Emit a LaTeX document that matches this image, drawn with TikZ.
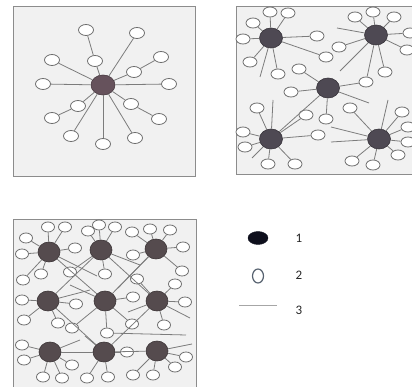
\documentclass[tikz,border=0pt]{standalone}
\usepackage{fontspec}
\setmainfont{Carlito}
\usetikzlibrary{shapes.geometric}
\definecolor{panelbg}{HTML}{F1F1F1}
\definecolor{framec}{HTML}{8C8C8C}
\definecolor{linkc}{HTML}{7C7C7C}
\definecolor{hubone}{HTML}{66525C}
\definecolor{hubtwo}{HTML}{4E4953}
\definecolor{hubthree}{HTML}{554B4E}
\definecolor{satc}{HTML}{6E6E6E}
\definecolor{legfill}{HTML}{0E0F1C}
\definecolor{legopen}{HTML}{56616F}
\begin{document}
\begin{tikzpicture}[x=1pt,y=-1pt,
  panel/.style={fill=panelbg,draw=framec,line width=0.9pt},
  hubP/.style={ellipse,draw=hubone!70!black,fill=hubone,line width=0.6pt,minimum width=24pt,minimum height=20pt,inner sep=0pt},
  hubQ/.style={ellipse,draw=hubtwo!70!black,fill=hubtwo,line width=0.6pt,minimum width=23pt,minimum height=20pt,inner sep=0pt},
  hubR/.style={ellipse,draw=hubthree!70!black,fill=hubthree,line width=0.6pt,minimum width=22pt,minimum height=20pt,inner sep=0pt},
  satA/.style={ellipse,draw=satc,fill=white,line width=0.8pt,minimum width=15pt,minimum height=11pt,inner sep=0pt},
  satB/.style={ellipse,draw=satc,fill=white,line width=0.8pt,minimum width=14pt,minimum height=10pt,inner sep=0pt},
  satC/.style={ellipse,draw=satc,fill=white,line width=0.8pt,minimum width=13pt,minimum height=10pt,inner sep=0pt},
  link/.style={draw=linkc,line width=0.8pt},
  lab/.style={font=\fontsize{13}{15}\selectfont,text=black!85}
]
\useasboundingbox (0,0) rectangle (412,387);
\fill[white] (0,0) rectangle (412,387);

% ---------------- Panel 1 ----------------
\draw[panel] (13,6) rectangle (195,176);
\node[hubP] (h) at (103,85) {};
\foreach \n/\x/\y in {s1/86/30, s2/137/33, s3/52/60, s4/95/61, s5/161/57, s6/134/72,
  s7/43/84, s8/169/84, s9/78/106, s10/131/104, s11/52/118, s12/159/119,
  s13/71/136, s14/103/144, s15/135/138}
  \node[satA] (\n) at (\x,\y) {};
\foreach \a/\b in {s1/s4, s4/h, s5/s6, s6/h, s11/s9, s9/h, s12/s10, s10/h,
  s2/h, s3/h, s7/h, s8/h, s13/h, s14/h, s15/h}
  \draw[link] (\a) -- (\b);

% ---------------- Panel 2 ----------------
\draw[panel] (236,6) rectangle (425,174);
\foreach \n/\x/\y in {A/271/38, B/376/35, C/328/88, D/271/139, E/379/139}
  \node[hubQ] (\n) at (\x,\y) {};
\foreach \n/\x/\y in {a1/253/23, a2/270/12, a3/288/13, a4/243/39, a5/250/62, a6/317/36, a7/278/74,
  c0/326/57, c1/299/69, c2/291/92, c3/306/115, c4/326/119, c5/366/82,
  b1/355/17, b2/373/12, b3/394/17, b4/339/47, b5/407/50, b6/410/33, b7/385/72,
  d1/257/108, d2/243/132, d3/245/147, d4/268/164, d5/295/164, d6/318/135,
  e1/350/108, e2/402/112, e3/408/127, e4/408/142, e5/398/155, e6/352/161, e7/373/165}
  \node[satB] (\n) at (\x,\y) {};
\foreach \n/\x/\y in {fa/260/77, fb1/337/28, fb2/340/71, fc1/369/103, fd1/273/100,
  fd2/252/158, fe1/388/100, fe2/331/127, fe3/331/142}
  \coordinate (\n) at (\x,\y);
\foreach \a/\b in {A/a1, A/a2, A/a3, A/a4, A/a5, A/a6, A/a7, A/c0, A/fa,
  B/b1, B/b2, B/b3, B/b4, B/b5, B/b6, B/b7, B/c5, B/fb1, B/fb2,
  C/c1, C/c2, C/c4, C/c5, C/fc1, C/D,
  D/d1, D/d2, D/d3, D/d4, D/d5, D/d6, D/c3, D/fd1, D/fd2,
  E/e1, E/e2, E/e3, E/e4, E/e5, E/e6, E/e7, E/fe1, E/fe2, E/fe3}
  \draw[link] (\a) -- (\b);

% ---------------- Panel 3 ----------------
\draw[panel] (13,219) rectangle (196,395);
\foreach \n/\x/\y in {H1/49/252, H2/101/250, H3/156/249, H4/48/301, H5/105/301,
  H6/157/301, H7/50/352, H8/104/352, H9/157/351}
  \node[hubR] (\n) at (\x,\y) {};
\foreach \n/\x/\y in {p1/26/238, p2/48/227, p3/65/227, p4/22/254, p5/75/248, p6/88/231,
  p7/99/225, p8/115/227, p9/132/232, p10/150/229, p11/170/230, p12/183/247,
  p13/133/255, p14/182/271, p15/41/274, p16/23/280, p17/70/272, p18/105/274,
  p19/137/279, p20/175/284, p21/22/300, p22/185/302, p23/133/297, p24/76/304,
  p25/24/320, p26/58/323, p27/72/328, p28/132/324, p29/164/325, p30/107/333,
  p31/22/345, p32/24/360, p33/72/365, p34/127/352, p35/186/357, p36/175/367,
  p37/133/375, p38/153/375, p39/43/377, p40/62/378, p41/87/378, p42/108/377}
  \node[satC] (\n) at (\x,\y) {};
\foreach \n/\x/\y in {g1/97/276, g2/140/265, g3/70/285, g4/190/318, g5/128/312,
  g6/192/344, g7/85/336, g8/90/290, g9/80/340, g10/186/335, g11/118/288}
  \coordinate (\n) at (\x,\y);
\foreach \a/\b in {H1/p1, H1/p2, H1/p3, H1/p4, H1/p5, H1/p15, H1/p16,
  H2/p6, H2/p7, H2/p8, H2/p18, H2/p17,
  H3/p9, H3/p10, H3/p11, H3/p12, H3/p13, H3/p14,
  H4/p21, H4/p25, H4/p26, H4/p24,
  H5/p23, H5/p28, H5/p30, H5/p27,
  H6/p20, H6/p22, H6/p29, H6/p19,
  H7/p31, H7/p32, H7/p33, H7/p39, H7/p40,
  H8/p41, H8/p42, H8/p34,
  H9/p35, H9/p36, H9/p37, H9/p38,
  H1/H5, H2/H4, H3/H5, H2/H6, H4/H8, H6/H8, H7/H8, H8/H9,
  H1/g1, H2/g2, H5/g3, H6/g4, H6/g5, H9/g6, H8/g7, H4/g8, H7/g9, p30/g10, H3/g11}
  \draw[link] (\a) -- (\b);

% ---------------- Legend ----------------
\node[ellipse,fill=legfill,draw=legfill,minimum width=20pt,minimum height=13pt,inner sep=0pt] (L1) at (258,238) {};
\node[ellipse,draw=legopen,line width=1.2pt,fill=white,minimum width=11pt,minimum height=14pt,inner sep=0pt] (L2) at (258,276) {};
\coordinate (L3a) at (239,305);
\coordinate (L3b) at (277,305);
\draw[draw=black!35,line width=1pt] (L3a) -- (L3b);
\node[lab] (T1) at (299,238) {1};
\node[lab] (T2) at (299,275) {2};
\node[lab] (T3) at (299,310) {3};
\end{tikzpicture}
\end{document}
